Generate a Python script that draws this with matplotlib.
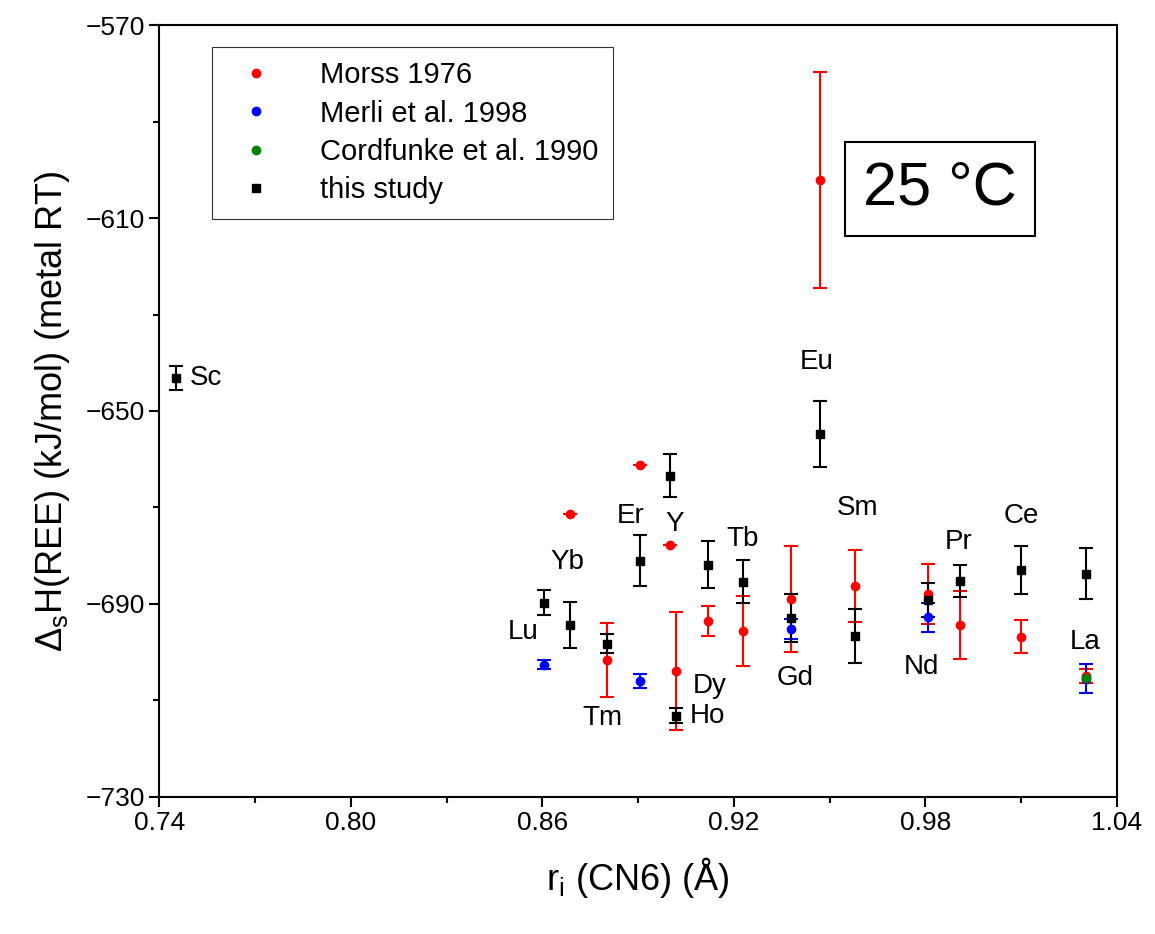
import matplotlib.pyplot as plt
from matplotlib.lines import Line2D

plt.rcParams.update({
    "font.family": "Liberation Sans",
    "font.size": 20,
})

# this study
study_x = [0.7453, 0.8604, 0.8685, 0.8804, 0.8905, 0.902, 0.900, 0.912, 0.923,
           0.938, 0.947, 0.958, 0.9807, 0.9908, 1.010, 1.0303]
study_y = [-643.2, -689.8, -694.4, -698.3, -681.1, -713.2, -663.4, -681.9, -685.4,
           -692.9, -654.8, -696.7, -689.2, -685.2, -683.0, -683.8]
study_err = [2.5, 2.6, 4.7, 2.0, 5.3, 1.5, 4.5, 4.9, 4.4,
             5.0, 6.8, 5.6, 3.5, 3.3, 5.0, 5.3]
study_lbl = ["Sc", "Lu", "Yb", "Tm", "Er", "Ho", "Y", "Dy", "Tb",
             "Gd", "Eu", "Sm", "Nd", "Pr", "Ce", "La"]

# Morss 1976
morss_x = [0.8685, 0.8905, 0.900, 0.8804, 0.902, 0.912, 0.923, 0.938, 0.947,
           0.958, 0.9807, 0.9908, 1.010, 1.0303]
morss_y = [-671.3, -661.2, -677.9, -701.6, -703.9, -693.5, -695.6, -689.0, -602.1,
           -686.3, -687.9, -694.4, -696.8, -705.0]
morss_err = [0, 0, 0, 7.7, 12.3, 3.1, 7.2, 11.0, 22.3,
             7.4, 6.2, 7.0, 3.5, 1.5]

# Merli et al. 1998
merli_x = [0.8604, 0.8905, 0.938, 0.9807, 1.0303]
merli_y = [-702.6, -706.0, -695.2, -692.8, -705.5]
merli_err = [1.0, 1.5, 2.0, 3.0, 3.0]

# Cordfunke et al. 1990
cord_x = [1.0303]
cord_y = [-705.3]

# label offsets (pixels, y up)
lbl_off = {"Sc": (13, 0), "Lu": (-36, -29), "Yb": (-19, 63), "Tm": (-25, -74),
           "Er": (-23, 45), "Ho": (13, 0), "Y": (-5, -48), "Dy": (-16, -121),
           "Tb": (-17, 43), "Gd": (-15, -60), "Eu": (-20, 72), "Sm": (-18, 128),
           "Nd": (-24, -67), "Pr": (-15, 39), "Ce": (-18, 54), "La": (-16, -68)}

fig, ax = plt.subplots(figsize=(11.55, 9.34), dpi=100)

eb = dict(ms=6, capsize=5, elinewidth=1.5, capthick=1.5, linestyle="none")
ax.errorbar(morss_x, morss_y, yerr=morss_err, marker="o", color="red", **eb)
ax.errorbar(merli_x, merli_y, yerr=merli_err, marker="o", color="blue", **eb)
ax.errorbar(cord_x, cord_y, marker="o", color="green", ms=6, linestyle="none")
ax.errorbar(study_x, study_y, yerr=study_err, marker="s", color="black", **eb)

for x, y, t in zip(study_x, study_y, study_lbl):
    dx, dy = lbl_off[t]
    ax.annotate(t, (x, y), xytext=(dx, dy), textcoords="offset pixels",
                fontsize=20, va="center", ha="left")

ax.text(0.9845, -604, "25 °C", fontsize=44, ha="center", va="center",
        bbox=dict(boxstyle="square,pad=0.3", fc="white", ec="black", lw=1.5))

ax.set_xlim(0.74, 1.04)
ax.set_ylim(-730, -570)
ax.set_xticks([0.74, 0.80, 0.86, 0.92, 0.98, 1.04])
ax.set_xticks([0.77, 0.83, 0.89, 0.95, 1.01], minor=True)
ax.set_yticks([-730, -690, -650, -610, -570])
ax.set_yticks([-710, -670, -630, -590], minor=True)
ax.set_yticklabels(["\u2212730", "\u2212690", "\u2212650", "\u2212610", "\u2212570"])
ax.tick_params(direction="out", length=7, width=1.5, labelsize=19)
ax.tick_params(which="minor", length=4, width=1.5)
for s in ax.spines.values():
    s.set_linewidth(1.5)

ax.set_xlabel("r$_\\mathregular{i}$ (CN6) (Å)", fontsize=26, labelpad=14)
ax.set_ylabel("Δ$_\\mathregular{s}$H(REE) (kJ/mol) (metal RT)", fontsize=26,
              labelpad=10)

handles = [
    Line2D([], [], marker="o", color="red", ls="none", ms=6, label="Morss 1976"),
    Line2D([], [], marker="o", color="blue", ls="none", ms=6, label="Merli et al. 1998"),
    Line2D([], [], marker="o", color="green", ls="none", ms=6, label="Cordfunke et al. 1990"),
    Line2D([], [], marker="s", color="black", ls="none", ms=6, label="this study"),
]
leg = ax.legend(handles=handles, loc="upper left", bbox_to_anchor=(0.04, 0.991),
                fontsize=21, fancybox=False, edgecolor="black",
                handletextpad=1.2, borderpad=0.5, labelspacing=0.35)
leg.get_frame().set_linewidth(0.8)

fig.subplots_adjust(left=0.138, right=0.967, top=0.973, bottom=0.147)
fig.savefig("out.png", dpi=100)
